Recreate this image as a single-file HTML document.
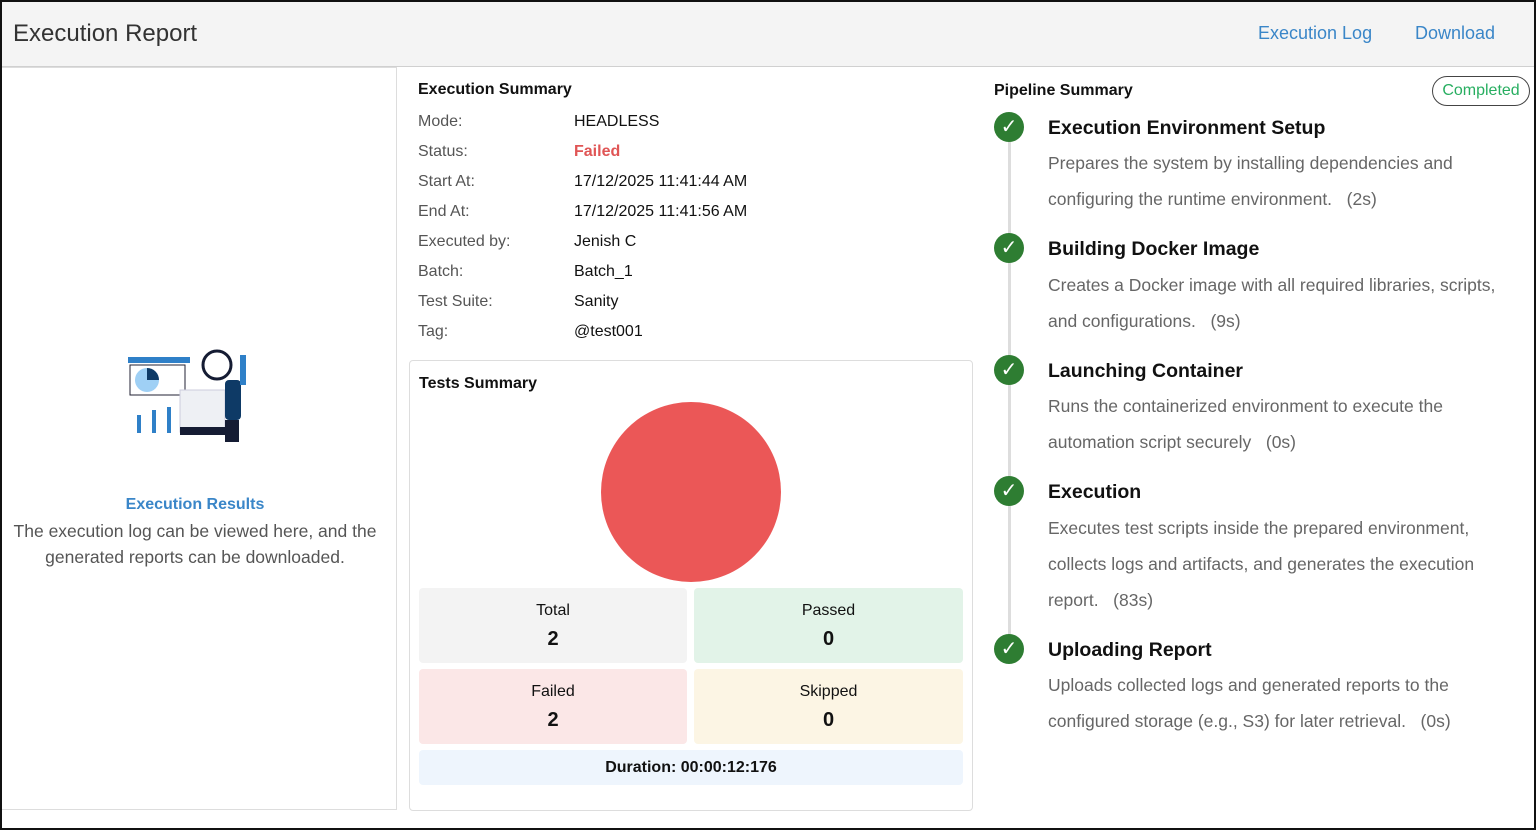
<!DOCTYPE html>
<html><head><style>
*{margin:0;padding:0;box-sizing:border-box}
body{width:1536px;height:830px;overflow:hidden;background:#fff;font-family:"Liberation Sans",Arial,sans-serif;position:relative}
.a{position:absolute;white-space:nowrap}
.frame{position:absolute;left:0;top:0;width:1536px;height:830px;border:2px solid #111;pointer-events:none}
.hdr{position:absolute;left:0;top:0;width:1536px;height:67px;background:#f4f4f4;border-bottom:1px solid #d0d0d0}
.lbl{color:#555;font-size:16px}
.val{color:#111;font-size:16px}
.box{position:absolute;border-radius:4px;text-align:center;font-size:16px;color:#111}
.box b{display:block;font-size:20px;margin-top:8px}
.ck{position:absolute;left:994px;width:30px;height:30px;border-radius:50%;background:#2e7d32;color:#fff;font-size:20px;text-align:center;line-height:30px}
.tt{position:absolute;left:1048px;font-size:19.5px;color:#111;font-weight:bold;white-space:nowrap}
.ds{position:absolute;left:1048px;font-size:17.5px;color:#666;line-height:36px;white-space:nowrap}
</style></head><body>
<div class="hdr"></div>
<div class="a" style="left:13px;top:20px;font-size:24px;color:#333">Execution Report</div>
<div class="a" style="left:1258px;top:23px;font-size:18px;color:#3a86c8">Execution Log</div>
<div class="a" style="left:1415px;top:23px;font-size:18px;color:#3a86c8">Download</div>

<div style="position:absolute;left:0;top:67px;width:397px;height:743px;border:1px solid #ddd;border-left:none"></div>
<svg style="position:absolute;left:125px;top:345px" width="140" height="105">
<rect x="3" y="12" width="62" height="6" fill="#2f80c8"/>
<rect x="5" y="20" width="55" height="30" fill="none" stroke="#223" stroke-width="1"/>
<circle cx="22" cy="35" r="12" fill="#9fd0f5"/><path d="M22 35 L22 23 A12 12 0 0 1 34 35Z" fill="#0e3a66"/>
<rect x="12" y="70" width="4" height="18" fill="#2f80c8"/><rect x="27" y="65" width="4" height="23" fill="#2f80c8"/><rect x="42" y="62" width="4" height="26" fill="#2f80c8"/>
<path d="M55 45 h45 v42 h-45z" fill="#eef0f4" stroke="#ccd" stroke-width="1"/>
<rect x="55" y="82" width="45" height="8" fill="#151c33"/>
<circle cx="92" cy="20" r="14" fill="none" stroke="#151c33" stroke-width="3"/>
<rect x="100" y="35" width="16" height="40" fill="#0e3a66" rx="4"/>
<rect x="100" y="75" width="14" height="22" fill="#151c33"/>
<rect x="115" y="10" width="6" height="30" fill="#2f80c8"/>
</svg>
<div class="a" style="left:0;width:390px;text-align:center;top:496px;font-size:16px;color:#3a86c8;font-weight:bold">Execution Results</div>
<div class="a" style="left:0;width:390px;text-align:center;top:518px;font-size:17.5px;color:#555;line-height:26px;white-space:normal">The execution log can be viewed here, and the generated reports can be downloaded.</div>

<div class="a" style="left:418px;top:81px;font-size:16px;font-weight:bold;color:#111">Execution Summary</div>
<div class="a lbl" style="left:418px;top:113px">Mode:</div><div class="a val" style="left:574px;top:113px">HEADLESS</div>
<div class="a lbl" style="left:418px;top:143px">Status:</div><div class="a val" style="left:574px;top:143px;color:#e05555;font-weight:bold">Failed</div>
<div class="a lbl" style="left:418px;top:173px">Start At:</div><div class="a val" style="left:574px;top:173px">17/12/2025 11:41:44 AM</div>
<div class="a lbl" style="left:418px;top:203px">End At:</div><div class="a val" style="left:574px;top:203px">17/12/2025 11:41:56 AM</div>
<div class="a lbl" style="left:418px;top:233px">Executed by:</div><div class="a val" style="left:574px;top:233px">Jenish C</div>
<div class="a lbl" style="left:418px;top:263px">Batch:</div><div class="a val" style="left:574px;top:263px">Batch_1</div>
<div class="a lbl" style="left:418px;top:293px">Test Suite:</div><div class="a val" style="left:574px;top:293px">Sanity</div>
<div class="a lbl" style="left:418px;top:323px">Tag:</div><div class="a val" style="left:574px;top:323px">@test001</div>

<div style="position:absolute;left:409px;top:360px;width:564px;height:451px;border:1px solid #ddd;border-radius:4px"></div>
<div class="a" style="left:419px;top:375px;font-size:16px;font-weight:bold;color:#111">Tests Summary</div>
<div style="position:absolute;left:601px;top:402px;width:180px;height:180px;border-radius:50%;background:#eb5757"></div>
<div class="box" style="left:419px;top:588px;width:268px;height:75px;background:#f3f3f3;padding-top:14px">Total<b>2</b></div>
<div class="box" style="left:694px;top:588px;width:269px;height:75px;background:#e2f3e8;padding-top:14px">Passed<b>0</b></div>
<div class="box" style="left:419px;top:669px;width:268px;height:75px;background:#fbe7e7;padding-top:14px">Failed<b>2</b></div>
<div class="box" style="left:694px;top:669px;width:269px;height:75px;background:#fcf5e4;padding-top:14px">Skipped<b>0</b></div>
<div class="box" style="left:419px;top:750px;width:544px;height:35px;background:#eef5fd;line-height:35px;font-weight:bold">Duration: 00:00:12:176</div>

<div class="a" style="left:994px;top:82px;font-size:16px;font-weight:bold;color:#111">Pipeline Summary</div>
<div class="a" style="left:1432px;top:76px;width:98px;height:30px;border:1px solid #444;border-radius:15px;color:#27ae60;font-size:16px;text-align:center;line-height:28px">Completed</div>
<div style="position:absolute;left:1008px;top:130px;width:3px;height:520px;background:#ddd"></div>
<div class="ck" style="top:112px">✓</div>
<div class="tt" style="top:117px">Execution Environment Setup</div>
<div class="ds" style="top:145px">Prepares the system by installing dependencies and<br>configuring the runtime environment.&nbsp;&nbsp; (2s)</div>
<div class="ck" style="top:233px">✓</div>
<div class="tt" style="top:238px">Building Docker Image</div>
<div class="ds" style="top:267px">Creates a Docker image with all required libraries, scripts,<br>and configurations.&nbsp;&nbsp; (9s)</div>
<div class="ck" style="top:355px">✓</div>
<div class="tt" style="top:360px">Launching Container</div>
<div class="ds" style="top:388px">Runs the containerized environment to execute the<br>automation script securely&nbsp;&nbsp; (0s)</div>
<div class="ck" style="top:476px">✓</div>
<div class="tt" style="top:481px">Execution</div>
<div class="ds" style="top:510px">Executes test scripts inside the prepared environment,<br>collects logs and artifacts, and generates the execution<br>report.&nbsp;&nbsp; (83s)</div>
<div class="ck" style="top:634px">✓</div>
<div class="tt" style="top:639px">Uploading Report</div>
<div class="ds" style="top:667px">Uploads collected logs and generated reports to the<br>configured storage (e.g., S3) for later retrieval.&nbsp;&nbsp; (0s)</div>
<div class="frame"></div>
</body></html>
